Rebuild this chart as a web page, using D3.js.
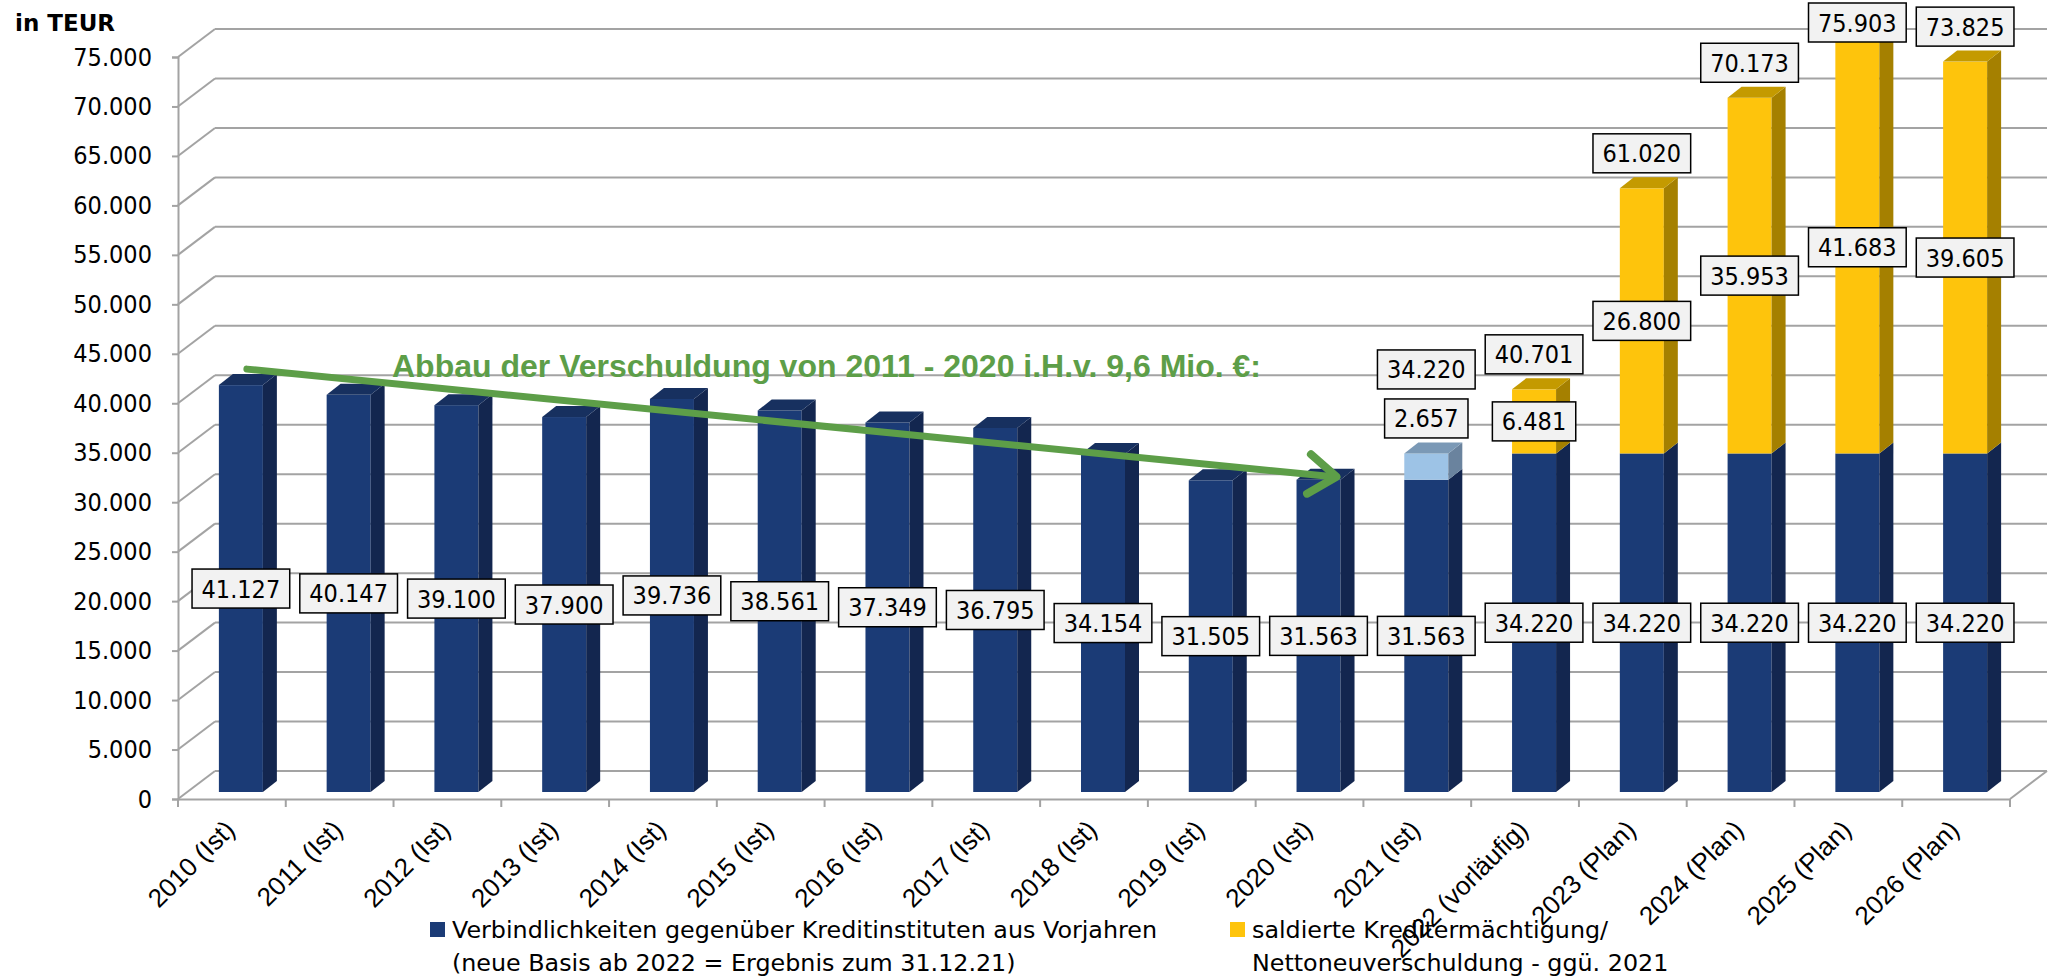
<!DOCTYPE html>
<html>
<head>
<meta charset="utf-8">
<script src="https://cdn.jsdelivr.net/npm/d3@7"></script>
<style>
	body { margin: 0; background: #fff; }
	svg { display: block; }
	.num { font-family: "DejaVu Sans Condensed", "DejaVu Sans", sans-serif; font-stretch: condensed; }
	.leg { font-family: "DejaVu Sans", sans-serif; }
	.cat { font-family: "Liberation Sans", Arial, sans-serif; }
</style>
</head>
<body>
<script>
// categories and series (values in TEUR)
var categories = ["2010 (Ist)", "2011 (Ist)", "2012 (Ist)", "2013 (Ist)", "2014 (Ist)", "2015 (Ist)",
	"2016 (Ist)", "2017 (Ist)", "2018 (Ist)", "2019 (Ist)", "2020 (Ist)", "2021 (Ist)",
	"2022 (vorläufig)", "2023 (Plan)", "2024 (Plan)", "2025 (Plan)", "2026 (Plan)"];
var verbindlichkeiten = [41127, 40147, 39100, 37900, 39736, 38561, 37349, 36795, 34154, 31505,
	31563, 31563, 34220, 34220, 34220, 34220, 34220];
var zuwachs2021 = [0, 0, 0, 0, 0, 0, 0, 0, 0, 0, 0, 2657, 0, 0, 0, 0, 0];
var kreditermaechtigung = [0, 0, 0, 0, 0, 0, 0, 0, 0, 0, 0, 0, 6481, 26800, 35953, 41683, 39605];
var yTickValues = [0, 5000, 10000, 15000, 20000, 25000, 30000, 35000, 40000, 45000, 50000,
	55000, 60000, 65000, 70000, 75000];
var legendLines = [
	["Verbindlichkeiten gegenüber Kreditinstituten aus Vorjahren", "(neue Basis ab 2022 = Ergebnis zum 31.12.21)"],
	["saldierte Kreditermächtigung/", "Nettoneuverschuldung - ggü. 2021"]
];
var annotation = "Abbau der Verschuldung von 2011 - 2020 i.H.v. 9,6 Mio. €:";

var width = 2051;
var height = 977;
var depth = { dx: 37, dy: -28 };     // floor depth
var barOff = { dx: 9, dy: -7 };      // bar front plane
var barDepth = { dx: 14, dy: -11 };
var barW = 44;

var de = d3.formatLocale({ decimal: ",", thousands: ".", grouping: [3], currency: ["", " €"] });
var fmt = de.format(",d");

var svg = d3.select("body").append("svg")
	.attr("width", width).attr("height", height);

var xScale = d3.scaleBand().domain(categories).range([178, 2010]);
var yScale = d3.scaleLinear().domain([0, 75000]).range([799, 57]);

var grid = svg.append("g").attr("id", "grid")
	.attr("stroke", "#a3a3a3").attr("stroke-width", 2).attr("fill", "none");

yTickValues.forEach(function(t) {
	var y = yScale(t);
	grid.append("line")
		.attr("x1", 178).attr("y1", y).attr("x2", 178 + depth.dx).attr("y2", y + depth.dy);
	grid.append("line")
		.attr("x1", 178 + depth.dx).attr("y1", y + depth.dy)
		.attr("x2", 2010 + depth.dx).attr("y2", y + depth.dy);
});
// floor right edge
grid.append("line")
	.attr("x1", 2010).attr("y1", yScale(0)).attr("x2", 2010 + depth.dx).attr("y2", yScale(0) + depth.dy);

// y axis
var yAxis = d3.axisLeft(yScale).tickValues(yTickValues).tickFormat(fmt).tickSizeOuter(0).tickSize(6).tickPadding(20);
var ya = svg.append("g").attr("id", "y-axis").attr("transform", "translate(178,0)").call(yAxis);
ya.select(".domain").attr("stroke", "#a3a3a3").attr("stroke-width", 2);
ya.selectAll(".tick line").attr("stroke", "#a3a3a3").attr("stroke-width", 2);
ya.selectAll(".tick text").attr("class", "num").attr("font-size", 25).attr("fill", "#000");

// x axis: labels at band centres, ticks at band borders
var xAxis = d3.axisBottom(xScale).tickSize(0).tickSizeOuter(0);
var xa = svg.append("g").attr("id", "x-axis").attr("transform", "translate(0," + yScale(0) + ")").call(xAxis);
xa.select(".domain").attr("stroke", "#a3a3a3").attr("stroke-width", 2);
xa.selectAll(".tick text")
	.attr("class", "cat").attr("font-size", 26).attr("fill", "#000")
	.attr("text-anchor", "end")
	.attr("transform", "translate(-2,26) rotate(-45)")
	.attr("dy", "0.35em").attr("y", 0);
categories.concat([null]).forEach(function(c, i) {
	var x = 178 + i * xScale.step();
	xa.append("line").attr("x1", x).attr("x2", x).attr("y1", 0).attr("y2", 8)
		.attr("stroke", "#a3a3a3").attr("stroke-width", 2);
});

// stacked 3d bars
var series = [
	{ values: verbindlichkeiten, front: "#1b3b76", side: "#13264f", top: "#17305f" },
	{ values: zuwachs2021, front: "#9dc3e6", side: "#6a839e", top: "#7b99b6" },
	{ values: kreditermaechtigung, front: "#fec40c", side: "#a58000", top: "#c49a00" }
];

function barX(c) { return xScale(c) + (xScale.bandwidth() - barW) / 2 + barOff.dx; }
function barY(v) { return yScale(v) + barOff.dy; }

var bars = svg.append("g").attr("id", "bars");
var labels = [];

categories.forEach(function(c, i) {
	var x = barX(c);
	var base = 0;
	var segs = [];
	series.forEach(function(s) {
		var v = s.values[i];
		if (!v) return;
		segs.push({ lo: base, hi: base + v, v: v, s: s });
		base += v;
	});
	segs.forEach(function(sg, k) {
		var yTop = barY(sg.hi), yBot = barY(sg.lo);
		var g = bars.append("g");
		g.append("rect").attr("x", x).attr("y", yTop).attr("width", barW).attr("height", yBot - yTop)
			.attr("fill", sg.s.front);
		g.append("polygon").attr("points", [
			[x + barW, yTop], [x + barW + barDepth.dx, yTop + barDepth.dy],
			[x + barW + barDepth.dx, yBot + barDepth.dy], [x + barW, yBot]
		].join(" ")).attr("fill", sg.s.side);
		if (k === segs.length - 1) {
			g.append("polygon").attr("points", [
				[x, yTop], [x + barDepth.dx, yTop + barDepth.dy],
				[x + barW + barDepth.dx, yTop + barDepth.dy], [x + barW, yTop]
			].join(" ")).attr("fill", sg.s.top);
		}
	});

	// data labels
	var cx = x + barW / 2;
	var topY = barY(base);
	var aboveY = topY - 35;
	segs.forEach(function(sg) {
		var h = barY(sg.lo) - barY(sg.hi);
		if (h < 45) {
			labels.push({ x: cx, y: aboveY, text: fmt(sg.v) });
			aboveY -= 49;
		} else {
			labels.push({ x: cx, y: (barY(sg.lo) + barY(sg.hi)) / 2, text: fmt(sg.v) });
		}
	});
	if (segs.length > 1) {
		labels.push({ x: cx, y: Math.max(aboveY, 22.5), text: fmt(base) });
	}
});

// trend arrow over 2010 - 2020
var i0 = 0, i1 = 10;
var ax0 = barX(categories[i0]) + barW / 2 + 6, ay0 = barY(verbindlichkeiten[i0]) - 16;
var ax1 = barX(categories[i1]) + barW - 4, ay1 = barY(verbindlichkeiten[i1]) - 3;
var ang = Math.atan2(ay1 - ay0, ax1 - ax0);
var arm = 34, spread = 0.62;
var arrow = svg.append("g").attr("id", "arrow")
	.attr("stroke", "#5d9e48").attr("fill", "none").attr("stroke-linecap", "round").attr("stroke-linejoin", "round");
arrow.append("line").attr("x1", ax0).attr("y1", ay0).attr("x2", ax1 - 3).attr("y2", ay1)
	.attr("stroke-width", 7);
arrow.append("path").attr("stroke-width", 8).attr("d", d3.line()([
	[ax1 - arm * Math.cos(ang - spread), ay1 - arm * Math.sin(ang - spread)],
	[ax1, ay1],
	[ax1 - arm * Math.cos(ang + spread), ay1 - arm * Math.sin(ang + spread)]
]));

svg.append("text").attr("x", 392).attr("y", 377)
	.attr("font-family", "'Liberation Sans', Arial, sans-serif").attr("font-weight", "bold")
	.attr("font-size", 32).attr("fill", "#5d9e48")
	.text(annotation);

// label boxes
var lg = svg.append("g").attr("id", "labels");
labels.forEach(function(d) {
	var g = lg.append("g");
	var t = g.append("text").attr("class", "num").attr("font-size", 25)
		.attr("text-anchor", "middle").attr("x", d.x).attr("y", d.y + 9).text(d.text);
	var w = t.node().getComputedTextLength() + 19;
	g.insert("rect", "text").attr("x", d.x - w / 2).attr("y", d.y - 19.5)
		.attr("width", w).attr("height", 39)
		.attr("fill", "#f2f2f2").attr("stroke", "#000").attr("stroke-width", 1.5);
});

// y unit
svg.append("text").attr("class", "leg").attr("x", 15).attr("y", 31)
	.attr("font-size", 23).attr("font-weight", "bold").text("in TEUR");

// legend
var legendX = [430, 1230];
var legendColors = ["#1b3b76", "#fec40c"];
legendLines.forEach(function(lines, k) {
	var g = svg.append("g").attr("transform", "translate(" + legendX[k] + ",0)");
	g.append("rect").attr("x", 0).attr("y", 922).attr("width", 15).attr("height", 15).attr("fill", legendColors[k]);
	lines.forEach(function(l, j) {
		g.append("text").attr("class", "leg").attr("font-size", 23.8)
			.attr("x", 22).attr("y", 938 + j * 33).text(l);
	});
});
</script>
</body>
</html>
